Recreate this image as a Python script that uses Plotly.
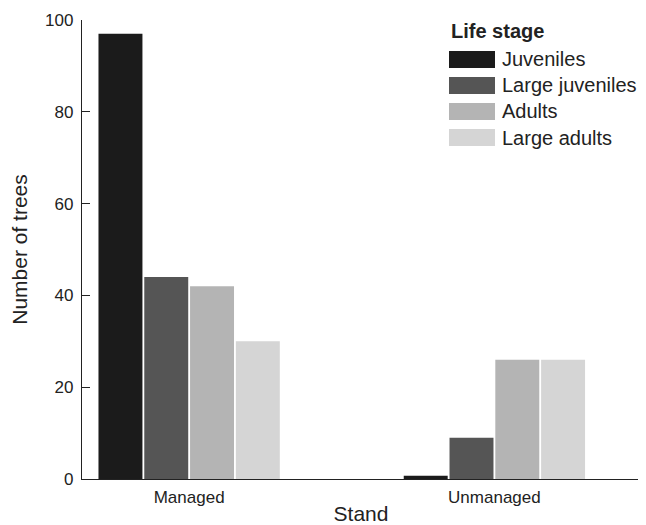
import plotly.graph_objects as go

stands = ["Managed", "Unmanaged"]
life_stages = ["Juveniles", "Large juveniles", "Adults", "Large adults"]
juveniles = [97, 0.7]
large_juveniles = [44, 9]
adults = [42, 26]
large_adults = [30, 26]
y_ticks = [0, 20, 40, 60, 80, 100]

series = [juveniles, large_juveniles, adults, large_adults]
colors = ["#1b1b1b", "#555555", "#b4b4b4", "#d5d5d5"]

OFF = 8  # page body margin
ML, MR, MT, MB = 82 - OFF, 6, 20 - OFF, 46
pw, ph = 558, 459
W, H = ML + pw + MR, MT + ph + MB

fig = go.Figure()
for name, vals, col in zip(life_stages, series, colors):
    fig.add_trace(go.Bar(x=stands, y=vals, name=name, marker=dict(color=col, line=dict(width=0)),
                         showlegend=False))

font_fam = "Arial, Liberation Sans, sans-serif"
txt = "#222222"


def px_x(x):
    return (x - OFF - ML) / pw


def px_y(y):
    return (MT + ph - (y - OFF)) / ph


# custom legend (layout decoration)
shapes = []
annotations = []
lx0, lx1 = 449, 495
row0, rstep = 59.5, 26
annotations.append(dict(xref="paper", yref="paper", x=px_x(lx0), y=px_y(31),
                        xanchor="left", yanchor="middle", showarrow=False,
                        text="<b>Life stage</b>", font=dict(size=20, color=txt, family=font_fam)))
for i, (name, col) in enumerate(zip(life_stages, colors)):
    yc = row0 + i * rstep
    shapes.append(dict(type="rect", xref="paper", yref="paper",
                       x0=px_x(lx0), x1=px_x(lx1),
                       y0=px_y(yc - 8.5), y1=px_y(yc + 8.5),
                       fillcolor=col, line=dict(width=0)))
    annotations.append(dict(xref="paper", yref="paper", x=px_x(lx1 + 5), y=px_y(yc),
                            xanchor="left", yanchor="middle", showarrow=False,
                            text=name, font=dict(size=20, color=txt, family=font_fam)))

fig.update_layout(
    width=W, height=H,
    margin=dict(l=ML, r=MR, t=MT, b=MB),
    paper_bgcolor="white", plot_bgcolor="white",
    barmode="group", bargap=0.4, bargroupgap=0.04,
    font=dict(family=font_fam, color=txt, size=14),
    shapes=shapes, annotations=annotations,
    xaxis=dict(range=[-0.351, 1.477], showline=True, linecolor="#222", linewidth=1.3,
               ticks="", showgrid=False, zeroline=False, ticklabelstandoff=2, automargin=False,
               tickfont=dict(size=17, color=txt),
               title=dict(text="Stand", font=dict(size=21, color=txt), standoff=7)),
    yaxis=dict(range=[0, 100], tickvals=y_ticks, showline=True, linecolor="#222", linewidth=1.3,
               ticks="inside", ticklen=8, tickcolor="#222", tickwidth=1.3,
               showgrid=False, zeroline=False, ticklabelstandoff=4, automargin=False,
               tickfont=dict(size=17, color=txt),
               title=dict(text="Number of trees", font=dict(size=21, color=txt), standoff=12)),
)

fig.write_html("out.html")
